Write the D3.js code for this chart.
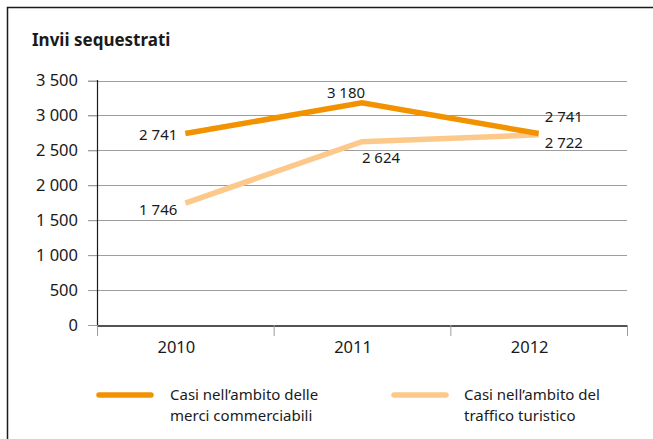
<!DOCTYPE html>
<html><head><meta charset="utf-8">
<script src="https://cdn.jsdelivr.net/npm/d3@7"></script>
<style>body{margin:0;background:#fff}svg{display:block}text{font-family:"Noto Sans",sans-serif;fill:#1a1a1a}</style>
</head><body><svg id="c" width="653" height="439"></svg>
<script>
const years = ["2010", "2011", "2012"];
const commercial = [2741, 3180, 2741];
const tourist = [1746, 2624, 2722];
const yTicks = [0, 500, 1000, 1500, 2000, 2500, 3000, 3500];
const seriesNames = ["Casi nell\u2019ambito delle|merci commerciabili", "Casi nell\u2019ambito del|traffico turistico"];
const colors = ["#f39200", "#fdc98a"];

const svg = d3.select("#c");
// frame
svg.append("path").attr("d","M7.5,439 V7.5 H653").attr("fill","none").attr("stroke","#1a1a1a").attr("stroke-width",1.5);
svg.append("text").attr("x",32).attr("y",46).attr("font-size",17).attr("font-weight","bold").text("Invii sequestrati");

const x = d3.scaleBand().domain(years).range([97,627]);
const y = d3.scaleLinear().domain([0,3500]).range([325,80.5]);
const fmt = v => d3.format(",")(v).replace(/,/g," ");

// grid
const g = svg.append("g");
g.selectAll("line.grid").data(yTicks.slice(1)).join("line")
 .attr("x1",88).attr("x2",627).attr("y1",d=>Math.round(y(d))+0.5).attr("y2",d=>Math.round(y(d))+0.5)
 .attr("stroke","#9d9d9d").attr("stroke-width",1);
// y axis
const ya = svg.append("g").attr("transform","translate(97,0)")
 .call(d3.axisLeft(y).tickValues(yTicks).tickFormat(fmt).tickSize(9).tickPadding(10));
ya.select(".domain").remove();
ya.selectAll(".tick line").attr("stroke","#9d9d9d");
ya.selectAll("text").attr("font-size",16.5).attr("fill","#1a1a1a").style("font-family","Noto Sans");
svg.append("line").attr("x1",97.5).attr("x2",97.5).attr("y1",80).attr("y2",325.5).attr("stroke","#1a1a1a").attr("stroke-width",1.2);
// x axis
const xa = svg.append("g").attr("transform","translate(0,325.5)")
 .call(d3.axisBottom(x).tickSize(0).tickPadding(16));
xa.select(".domain").attr("stroke","#1a1a1a").attr("stroke-width",1.5);
xa.selectAll("text").attr("font-size",16.5).attr("fill","#1a1a1a").attr("dx",-9).style("font-family","Noto Sans");
const bounds = years.map(d=>x(d)).concat([x.range()[1]]);
svg.selectAll("line.xt").data(bounds).join("line").attr("x1",d=>d+0.5).attr("x2",d=>d+0.5)
 .attr("y1",325).attr("y2",336).attr("stroke","#9d9d9d");

const cx = d => x(d)+x.bandwidth()/2;
const line = d3.line().x((v,i)=>cx(years[i])).y(v=>y(v));
[tourist, commercial].forEach((s,k)=>{
  svg.append("path").attr("d",line(s)).attr("fill","none").attr("stroke",k===0?colors[1]:colors[0])
   .attr("stroke-width",5.5).attr("stroke-linejoin","miter").attr("stroke-linecap","butt");
});

// data labels
const lab = (txt,xx,yy,anchor)=>svg.append("text").attr("x",xx).attr("y",yy).attr("text-anchor",anchor)
  .attr("font-size",15).text(txt);
lab(fmt(commercial[0]), cx(years[0])-8, y(commercial[0])+6, "end");
lab(fmt(tourist[0]), cx(years[0])-8, y(tourist[0])+12, "end");
lab(fmt(commercial[1]), cx(years[1])-16, y(commercial[1])-5, "middle");
lab(fmt(tourist[1]), cx(years[1])+19, y(tourist[1])+21, "middle");
lab(fmt(commercial[2]), cx(years[2])+6, y(commercial[2])-12, "start");
lab(fmt(tourist[2]), cx(years[2])+6, y(tourist[2])+13, "start");

// legend
const lg = [{x0:97,tx:170},{x0:392,tx:464}];
seriesNames.forEach((n,i)=>{
  svg.append("line").attr("x1",lg[i].x0+2).attr("x2",lg[i].x0+54).attr("y1",395).attr("y2",395)
   .attr("stroke",colors[i]).attr("stroke-width",5.5).attr("stroke-linecap","round");
  const parts = n.split("|");
  const t = svg.append("text").attr("x",lg[i].tx).attr("y",400).attr("font-size",15);
  parts.forEach((p,j)=>t.append("tspan").attr("x",lg[i].tx).attr("y",j===0?400:421).text(p));
});
</script></body></html>
